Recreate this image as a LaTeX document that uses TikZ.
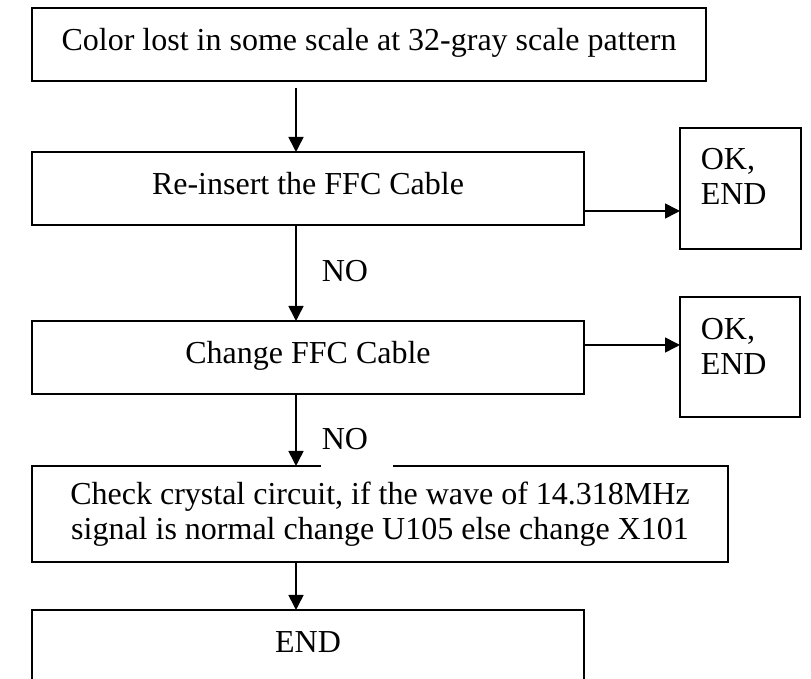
\documentclass[tikz,border=0pt]{standalone}
\usepackage{fontspec}
\setmainfont{Liberation Serif}
\usetikzlibrary{positioning,arrows.meta}
\tikzstyle{procbox}=[rectangle,draw=black,line width=1pt,inner sep=0pt,outer sep=0pt]
\tikzstyle{linebox}=[procbox,minimum height=36.5pt,text height=11pt,text depth=5pt]
\tikzstyle{okbox}=[rectangle,draw=black,line width=1pt,minimum size=60.5pt,inner sep=0pt,outer sep=0pt]
\tikzstyle{oklabel}=[anchor=north west,align=left,inner sep=0pt,xshift=10pt,yshift=-10pt]
\tikzstyle{nolabel}=[fill=white,text width=35pt,align=left,inner xsep=0.5pt,
minimum height=29pt,anchor=west]

\begin{document}
\begin{tikzpicture}[font=\fontsize{16pt}{17.5pt}\selectfont,
    >={Triangle[length=7.5pt,width=7.5pt]},line width=0.8pt]
            \useasboundingbox (0,0) rectangle (405.5pt,-339.5pt);

            % MAIN COLUMN

            \node[linebox,minimum width=337pt,anchor=north west] (fault) at (16pt,-4pt) {Color lost in some scale at 32-gray scale pattern};
            \node[linebox,minimum width=276pt,below=35.5pt of fault.south west,anchor=north west] (reins) {Re-insert the FFC Cable};
            \node[linebox,minimum width=276pt,below=48pt of reins.south west,anchor=north west] (chg) {Change FFC Cable};
            \node[procbox,minimum width=348pt,minimum height=48pt,align=center,
                below=36pt of chg.south west,anchor=north west] (crys) {Check crystal circuit, if the wave of 14.318MHz\\signal is normal change U105 else change X101};
            \node[linebox,minimum width=276pt,below=24pt of crys.south west,anchor=north west] (fin) {END};

            \path[->] ([xshift=-6pt,yshift=32pt]reins.north) edge ([xshift=-6pt]reins.north);
            \path[->] ([xshift=-6pt]reins.south) edge ([xshift=-6pt]chg.north);
            \path[->] ([xshift=-6pt]chg.south) edge ([xshift=-6pt]chg.south |- crys.north);
            \path[->] ([xshift=-6pt]fin.north |- crys.south) edge ([xshift=-6pt]fin.north);

            % OK PART

            \node[okbox,right=48pt of reins,label={[oklabel]north west:{OK,\\END}}] (ok1) {};
            \node[okbox,right=48pt of chg,minimum size=60pt,label={[oklabel]north west:{OK,\\END}}] (ok2) {};

            \path[->] ([yshift=7pt]reins.south east) edge ([yshift=7pt]reins.south east -| ok1.west);
            \path[->] ([yshift=-12pt]chg.north east) edge ([yshift=-12pt]chg.north east -| ok2.west);

            % NO LABELS

            \node[nolabel] (no1) at ([xshift=6pt,yshift=-23pt]reins.south) {NO};
            \node[nolabel] (no2) at ([xshift=6pt,yshift=-22.5pt]chg.south) {NO};

        \end{tikzpicture}
\end{document}
